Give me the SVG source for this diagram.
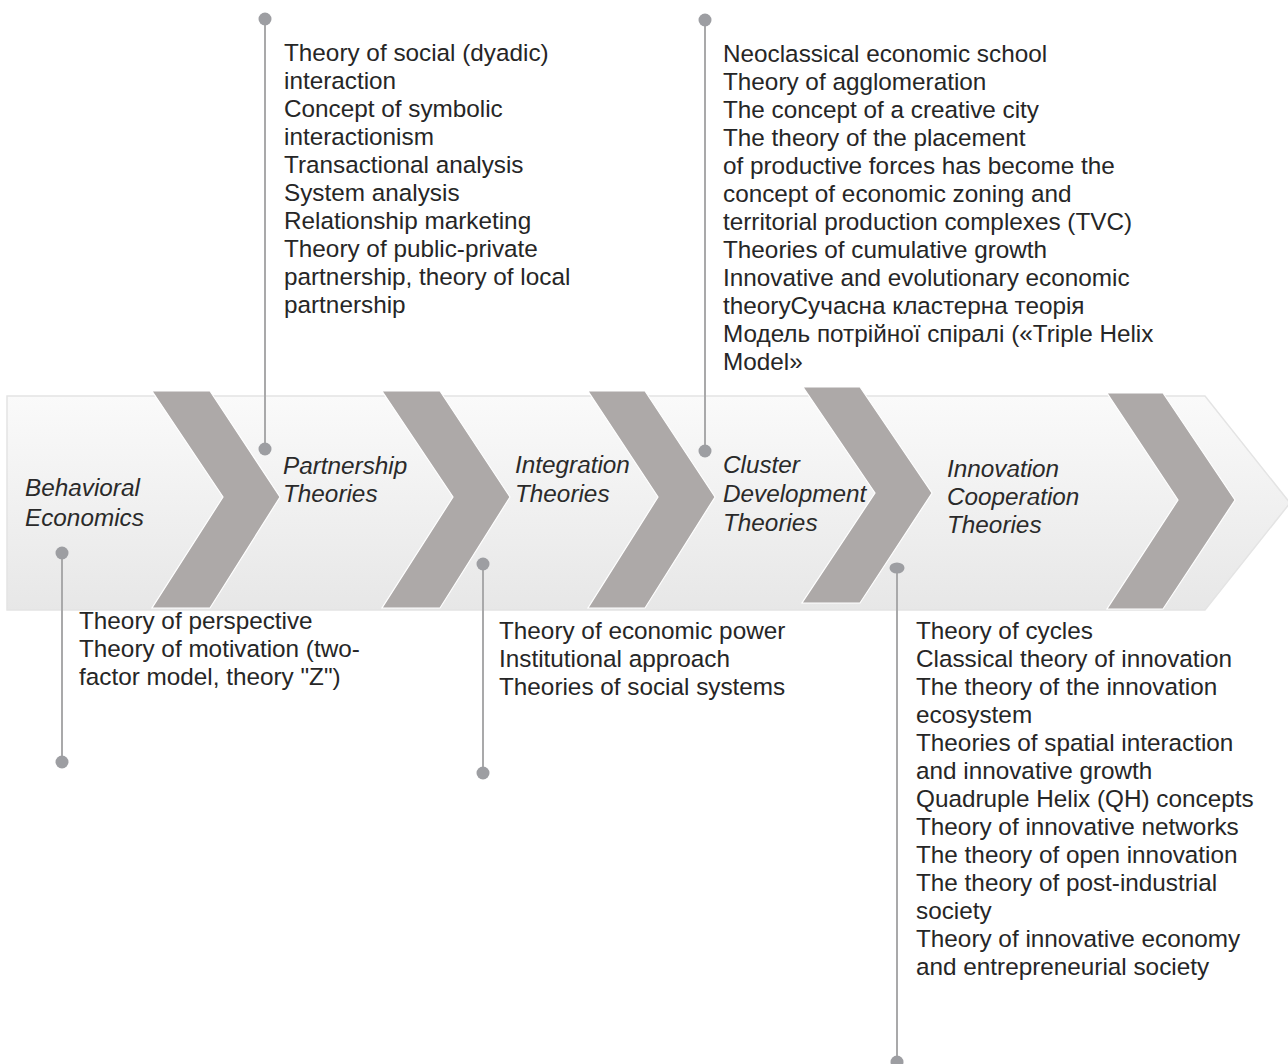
<svg xmlns="http://www.w3.org/2000/svg" width="1288" height="1064" viewBox="0 0 1288 1064">
<defs>
<linearGradient id="band" x1="0" y1="0" x2="0" y2="1">
<stop offset="0" stop-color="#fafafa"/>
<stop offset="1" stop-color="#e7e7e7"/>
</linearGradient>
<style>
.chev{fill:#ada9a8;stroke:#ffffff;stroke-width:1.2}
.t{font-family:"Liberation Sans",Arial,sans-serif;font-size:24.3px;fill:#262626}
.h{font-family:"Liberation Sans",Arial,sans-serif;font-size:24.3px;font-style:italic;fill:#2a2a2a}
.ln{stroke:#a9a9aa;stroke-width:2;fill:none}
.dot{fill:#9d9ea2}
</style>
</defs>
<rect width="1288" height="1064" fill="#ffffff"/>
<g id="band-arrow">
<polygon points="7,396 1205,396 1290,503 1205,610 7,610" fill="url(#band)" stroke="#e4e4e4" stroke-width="1.5"/>
</g>
<g id="chevrons">
<polygon class="chev" points="152,391 210,391 280,497 210,608 152,608 223,497"/>
<polygon class="chev" points="382,391 440,391 510,497 440,608 382,608 453,497"/>
<polygon class="chev" points="588,391 645,391 715,497 645,608 588,608 658,497"/>
<polygon class="chev" points="803,387 860,387 932,493 860,603 802,603 875,493"/>
<polygon class="chev" points="1107,393 1163,393 1235,500 1163,609 1107,609 1178,500"/>
</g>
<g id="connectors">
<line class="ln" x1="265" y1="19" x2="265" y2="449"/>
<line class="ln" x1="705" y1="20" x2="705" y2="451"/>
<line class="ln" x1="62" y1="553" x2="62" y2="762"/>
<line class="ln" x1="483" y1="564" x2="483" y2="773"/>
<line class="ln" x1="897" y1="568" x2="897" y2="1062"/>
<circle class="dot" cx="265" cy="19" r="6.5"/>
<circle class="dot" cx="265" cy="449" r="6.5"/>
<circle class="dot" cx="705" cy="20" r="6.5"/>
<circle class="dot" cx="705" cy="451" r="6.5"/>
<circle class="dot" cx="62" cy="553" r="6.5"/>
<circle class="dot" cx="62" cy="762" r="6.5"/>
<circle class="dot" cx="483" cy="564" r="6.5"/>
<circle class="dot" cx="483" cy="773" r="6.5"/>
<ellipse class="dot" cx="897" cy="568" rx="7.5" ry="5.5"/>
<circle class="dot" cx="897" cy="1062" r="6.5"/>
</g>
<g id="node-behavioral">
<text class="h" x="25" y="496">Behavioral</text>
<text class="h" x="25" y="526">Economics</text>
<text class="t" x="79" y="629">Theory of perspective</text>
<text class="t" x="79" y="657">Theory of motivation (two-</text>
<text class="t" x="79" y="685">factor model, theory "Z")</text>
</g>
<g id="node-partnership">
<text class="h" x="283" y="474">Partnership</text>
<text class="h" x="283" y="502">Theories</text>
<text class="t" x="284" y="61">Theory of social (dyadic)</text>
<text class="t" x="284" y="89">interaction</text>
<text class="t" x="284" y="117">Concept of symbolic</text>
<text class="t" x="284" y="145">interactionism</text>
<text class="t" x="284" y="173">Transactional analysis</text>
<text class="t" x="284" y="201">System analysis</text>
<text class="t" x="284" y="229">Relationship marketing</text>
<text class="t" x="284" y="257">Theory of public-private</text>
<text class="t" x="284" y="285">partnership, theory of local</text>
<text class="t" x="284" y="313">partnership</text>
</g>
<g id="node-integration">
<text class="h" x="515" y="473">Integration</text>
<text class="h" x="515" y="502">Theories</text>
<text class="t" x="499" y="639">Theory of economic power</text>
<text class="t" x="499" y="667">Institutional approach</text>
<text class="t" x="499" y="695">Theories of social systems</text>
</g>
<g id="node-cluster">
<text class="h" x="723" y="473">Cluster</text>
<text class="h" x="723" y="502">Development</text>
<text class="h" x="723" y="531">Theories</text>
<text class="t" x="723" y="62">Neoclassical economic school</text>
<text class="t" x="723" y="90">Theory of agglomeration</text>
<text class="t" x="723" y="118">The concept of a creative city</text>
<text class="t" x="723" y="146">The theory of the placement</text>
<text class="t" x="723" y="174">of productive forces has become the</text>
<text class="t" x="723" y="202">concept of economic zoning and</text>
<text class="t" x="723" y="230">territorial production complexes (TVC)</text>
<text class="t" x="723" y="258">Theories of cumulative growth</text>
<text class="t" x="723" y="286">Innovative and evolutionary economic</text>
<text class="t" x="723" y="314">theoryСучасна кластерна теорія</text>
<text class="t" x="723" y="342">Модель потрійної спіралі («Triple Helix</text>
<text class="t" x="723" y="370">Model»</text>
</g>
<g id="node-innovation">
<text class="h" x="947" y="477">Innovation</text>
<text class="h" x="947" y="505">Cooperation</text>
<text class="h" x="947" y="533">Theories</text>
<text class="t" x="916" y="639">Theory of cycles</text>
<text class="t" x="916" y="667">Classical theory of innovation</text>
<text class="t" x="916" y="695">The theory of the innovation</text>
<text class="t" x="916" y="723">ecosystem</text>
<text class="t" x="916" y="751">Theories of spatial interaction</text>
<text class="t" x="916" y="779">and innovative growth</text>
<text class="t" x="916" y="807">Quadruple Helix (QH) concepts</text>
<text class="t" x="916" y="835">Theory of innovative networks</text>
<text class="t" x="916" y="863">The theory of open innovation</text>
<text class="t" x="916" y="891">The theory of post-industrial</text>
<text class="t" x="916" y="919">society</text>
<text class="t" x="916" y="947">Theory of innovative economy</text>
<text class="t" x="916" y="975">and entrepreneurial society</text>
</g>
</svg>
